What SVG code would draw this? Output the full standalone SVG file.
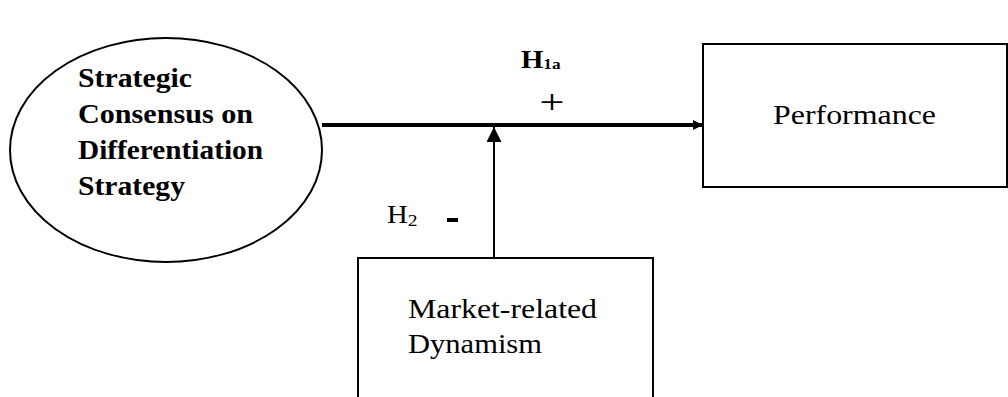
<svg xmlns="http://www.w3.org/2000/svg" width="1008" height="397" viewBox="0 0 1008 397">
<style>
.t{font-family:'Liberation Serif','Times New Roman',Times,serif;font-size:27px;fill:#000}
.e{font-size:28px;font-weight:bold}
.b{font-weight:bold}
.lbl{font-family:'Liberation Serif','Times New Roman',Times,serif;font-size:25px;fill:#000}
.sub{font-size:15px}
.shape{fill:#fff;stroke:#000;stroke-width:2}
</style>
<defs>
<marker id="ah" viewBox="0 0 10 10" refX="10" refY="5" markerWidth="10" markerHeight="11" markerUnits="userSpaceOnUse" orient="auto">
<path d="M0,0 L10,5 L0,10 z" fill="#000"/>
</marker>
<marker id="av" viewBox="0 0 10 10" refX="10" refY="5" markerWidth="15" markerHeight="15" markerUnits="userSpaceOnUse" orient="auto">
<path d="M0,0 L10,5 L0,10 z" fill="#000"/>
</marker>
</defs>
<rect width="1008" height="397" fill="#fff"/>
<g id="strategic-consensus">
<ellipse class="shape" cx="166" cy="150" rx="156" ry="112"/>
<text class="t e" x="78" y="87" textLength="114" lengthAdjust="spacingAndGlyphs">Strategic</text>
<text class="t e" x="78" y="123" textLength="175" lengthAdjust="spacingAndGlyphs">Consensus on</text>
<text class="t e" x="78" y="159" textLength="185" lengthAdjust="spacingAndGlyphs">Differentiation</text>
<text class="t e" x="78" y="195" textLength="107" lengthAdjust="spacingAndGlyphs">Strategy</text>
</g>
<g id="performance">
<rect class="shape" x="703" y="44" width="304" height="143"/>
<text class="t" x="773" y="124" textLength="163" lengthAdjust="spacingAndGlyphs">Performance</text>
</g>
<g id="market-dynamism">
<rect class="shape" x="358" y="258" width="295" height="150"/>
<text class="t" x="408" y="318" textLength="189" lengthAdjust="spacingAndGlyphs">Market-related</text>
<text class="t" x="408" y="353" textLength="134" lengthAdjust="spacingAndGlyphs">Dynamism</text>
</g>
<g id="connectors">
<line x1="322" y1="125" x2="703" y2="125" stroke="#000" stroke-width="4" marker-end="url(#ah)"/>
<line x1="494" y1="258" x2="494" y2="127" stroke="#000" stroke-width="2" marker-end="url(#av)"/>
</g>
<g id="labels">
<text class="lbl b" transform="translate(521,68) scale(1.15,1)">H<tspan class="sub" dy="1">1a</tspan></text>
<text class="lbl" transform="translate(552,113) scale(1.3,1)" text-anchor="middle" style="font-size:34px">+</text>
<text class="lbl" transform="translate(387,223) scale(1.15,1)">H<tspan class="sub" dy="3" style="font-size:17px">2</tspan></text>
<rect x="447" y="218" width="11" height="4" fill="#000"/>
</g>
</svg>
